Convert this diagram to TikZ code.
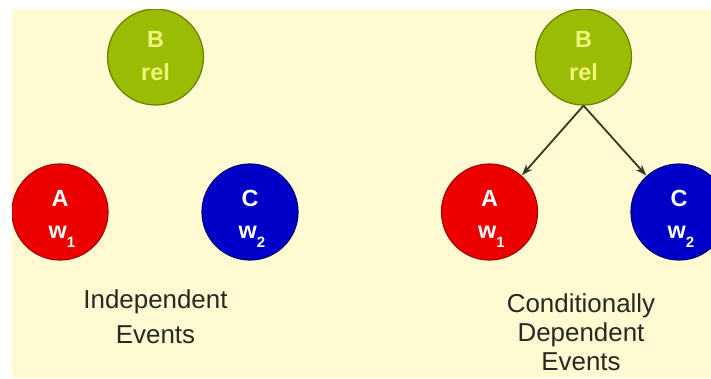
\documentclass[tikz,border=0pt]{standalone}
\usepackage{fontspec}
\setmainfont{Liberation Sans}
\usetikzlibrary{arrows.meta}
\definecolor{cream}{RGB}{255,250,210}
\definecolor{bfill}{RGB}{155,188,4}
\definecolor{bdraw}{RGB}{100,128,0}
\definecolor{afill}{RGB}{236,0,0}
\definecolor{adraw}{RGB}{165,0,0}
\definecolor{cfill}{RGB}{0,0,200}
\definecolor{cdraw}{RGB}{0,0,120}
\definecolor{btext}{RGB}{240,246,120}
\definecolor{labtext}{RGB}{40,40,35}
\definecolor{arrcol}{RGB}{55,55,35}
\tikzset{
  x=1bp, y=-1bp,
  ball/.style={circle, minimum size=96bp, inner sep=0pt, line width=1.2bp},
  bball/.style={ball, fill=bfill, draw=bdraw},
  aball/.style={ball, fill=afill, draw=adraw},
  cball/.style={ball, fill=cfill, draw=cdraw},
  intext/.style={anchor=base, inner sep=0pt, font=\fontsize{23.5}{23.5}\selectfont\bfseries},
  lab/.style={anchor=base, inner sep=0pt, text=labtext, font=\fontsize{26}{26}\selectfont},
  arr/.style={draw=arrcol, line width=1.8bp, -{Stealth[length=11bp,width=8bp]}, shorten >=0.5bp}
}
\newcommand{\sbone}[1]{w\raisebox{-0.4em}{\fontsize{15}{15}\selectfont #1}}
\begin{document}
\begin{tikzpicture}
\useasboundingbox (0,0) rectangle (711,378);
\fill[white] (0,0) rectangle (711,378);
\fill[cream] (12,9) rectangle (711,378);
\begin{scope}
\clip (12,9) rectangle (711,378);
% left group
\node[bball] (B1) at (155.5,57) {};
\node[aball] (A1) at (60,212) {};
\node[cball] (C1) at (250,212) {};
% right group
\node[bball] (B2) at (583.5,57) {};
\node[aball] (A2) at (489.5,212) {};
\node[cball] (C2) at (679,212) {};
\end{scope}
% circle texts
\node[intext, text=btext] (tB1a) at (155.5,47) {B};
\node[intext, text=btext] (tB1b) at (155.5,80) {rel};
\node[intext, text=white] (tA1a) at (60,206) {A};
\node[intext, text=white] (tA1b) at (62,238) {\sbone{1}};
\node[intext, text=white] (tC1a) at (250,206) {C};
\node[intext, text=white] (tC1b) at (252,238) {\sbone{2}};
\node[intext, text=btext] (tB2a) at (583.5,47) {B};
\node[intext, text=btext] (tB2b) at (583.5,80) {rel};
\node[intext, text=white] (tA2a) at (489.5,206) {A};
\node[intext, text=white] (tA2b) at (491.5,238) {\sbone{1}};
\node[intext, text=white] (tC2a) at (679,206) {C};
\node[intext, text=white] (tC2b) at (681,238) {\sbone{2}};
% arrows
\draw[arr] (B2.south) -- (A2);
\draw[arr] (B2.south) -- (C2);
% labels
\node[lab] (L1a) at (155.5,308) {Independent};
\node[lab] (L1b) at (155.5,343) {Events};
\node[lab] (L2a) at (581,312) {Conditionally};
\node[lab] (L2b) at (581,341) {Dependent};
\node[lab] (L2c) at (581,370) {Events};
\end{tikzpicture}
\end{document}
